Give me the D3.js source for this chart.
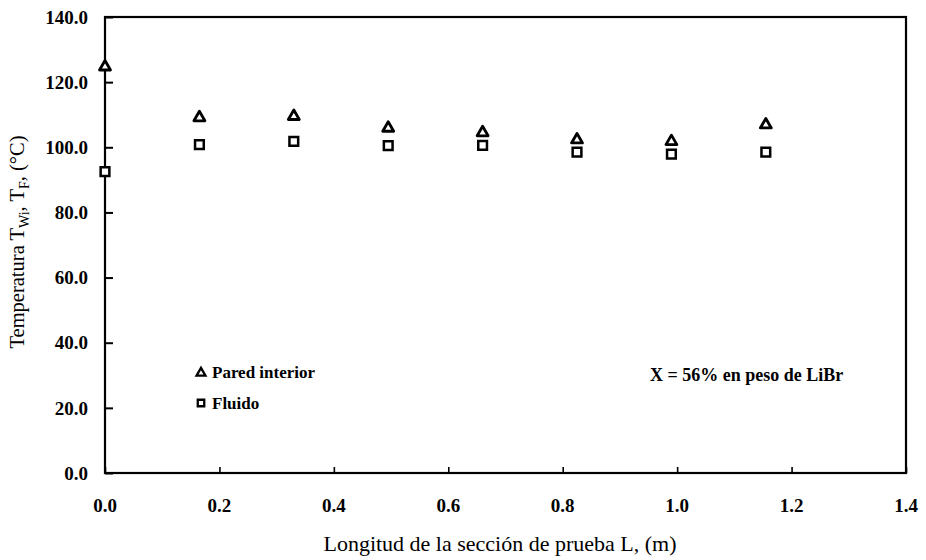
<!DOCTYPE html>
<html>
<head>
<meta charset="utf-8">
<script src="https://cdn.jsdelivr.net/npm/d3@7"></script>
<style>
  html, body { margin: 0; padding: 0; background: #fff; }
  svg { display: block; font-family: "Liberation Serif", "Times New Roman", serif; }
</style>
</head>
<body>
<svg id="chart" width="926" height="560"></svg>
<script>
// Position along the test section (m)
const positions = [0, 0.165, 0.33, 0.495, 0.66, 0.825, 0.99, 1.155];
// Inner wall temperature T_Wi (°C)
const wallTemps = [124.7, 109.1, 109.5, 105.9, 104.5, 102.3, 101.8, 106.9];
// Fluid temperature T_F (°C)
const fluidTemps = [92.5, 100.8, 101.8, 100.5, 100.6, 98.5, 97.9, 98.5];
const xTicks = [0, 0.2, 0.4, 0.6, 0.8, 1.0, 1.2, 1.4];
const yTicks = [0, 20, 40, 60, 80, 100, 120, 140];
const seriesNames = ["Pared interior", "Fluido"];

const svg = d3.select("#chart");
const plotLeft = 105, plotRight = 906, plotTop = 17, plotBottom = 473;

const x = d3.scaleLinear().domain([0, 1.4]).range([plotLeft, plotRight]);
const y = d3.scaleLinear().domain([0, 140]).range([plotBottom, plotTop]);

// Frame
svg.append("rect")
  .attr("x", plotLeft).attr("y", plotTop)
  .attr("width", plotRight - plotLeft).attr("height", plotBottom - plotTop)
  .attr("fill", "none").attr("stroke", "#000").attr("stroke-width", 2.2);

// Y axis: inward ticks, labels at left
const yAxis = d3.axisRight(y).tickValues(yTicks).tickSize(8).tickFormat("");
svg.append("g").attr("transform", `translate(${plotLeft},0)`).call(yAxis)
  .call(g => g.select(".domain").remove())
  .call(g => g.selectAll("line").attr("stroke-width", 2));
svg.append("g").selectAll("text").data(yTicks).join("text")
  .attr("x", 88).attr("y", d => y(d)).attr("dy", "0.35em")
  .attr("text-anchor", "end").attr("font-size", 19).attr("font-weight", "bold")
  .text(d => d3.format(".1f")(d));

// X axis: inward ticks, labels below
const xAxis = d3.axisTop(x).tickValues(xTicks).tickSize(6).tickFormat("");
svg.append("g").attr("transform", `translate(0,${plotBottom})`).call(xAxis)
  .call(g => g.select(".domain").remove())
  .call(g => g.selectAll("line").attr("stroke-width", 1.6));
svg.append("g").selectAll("text").data(xTicks).join("text")
  .attr("x", d => x(d)).attr("y", 512)
  .attr("text-anchor", "middle").attr("font-size", 19).attr("font-weight", "bold")
  .text(d => d3.format(".1f")(d));

// Axis titles
svg.append("text")
  .attr("x", 500).attr("y", 551)
  .attr("text-anchor", "middle").attr("font-size", 22)
  .text("Longitud de la sección de prueba L, (m)");

const yt = svg.append("text")
  .attr("transform", "translate(24,242) rotate(-90)")
  .attr("text-anchor", "middle").attr("font-size", 20.5);
yt.append("tspan").text("Temperatura T");
yt.append("tspan").attr("font-size", 14).attr("dy", 5).text("Wi");
yt.append("tspan").attr("dy", -5).text(", T");
yt.append("tspan").attr("font-size", 14).attr("dy", 5).text("F");
yt.append("tspan").attr("dy", -5).text(", (°C)");

// Markers
const tri = d3.symbol().type(d3.symbolTriangle).size(52);
const sq = d3.symbol().type(d3.symbolSquare).size(76);
const triSmall = d3.symbol().type(d3.symbolTriangle).size(34);
const sqSmall = d3.symbol().type(d3.symbolSquare).size(42);

svg.append("g").selectAll("path").data(positions).join("path")
  .attr("d", tri)
  .attr("transform", (d, i) => `translate(${x(d)},${y(wallTemps[i])})`)
  .attr("fill", "#fff").attr("stroke", "#000").attr("stroke-width", 2.8)
  .attr("stroke-linejoin", "round");

svg.append("g").selectAll("path").data(positions).join("path")
  .attr("d", sq)
  .attr("transform", (d, i) => `translate(${x(d)},${y(fluidTemps[i])})`)
  .attr("fill", "#fff").attr("stroke", "#000").attr("stroke-width", 2.5);

// Legend
const legend = svg.append("g");
const legendRows = [
  { sym: triSmall, name: seriesNames[0], cy: 373, base: 378 },
  { sym: sqSmall, name: seriesNames[1], cy: 403, base: 409 }
];
legendRows.forEach(r => {
  legend.append("path").attr("d", r.sym())
    .attr("transform", `translate(201,${r.cy})`)
    .attr("fill", "#fff").attr("stroke", "#000").attr("stroke-width", 2.3);
  legend.append("text").attr("x", 212).attr("y", r.base)
    .attr("font-size", 17).attr("font-weight", "bold").text(r.name);
});

// Composition note
svg.append("text")
  .attr("x", 650).attr("y", 381)
  .attr("font-size", 18).attr("font-weight", "bold")
  .text("X = 56% en peso de LiBr");
</script>
</body>
</html>
